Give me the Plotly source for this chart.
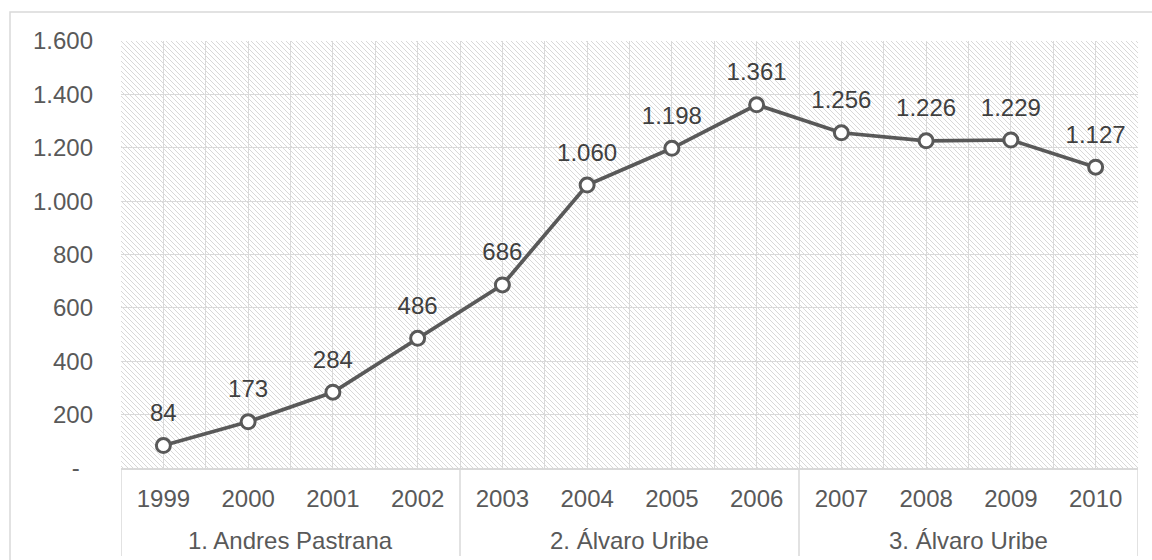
import base64
import plotly.graph_objects as go

# Series data
years = ["1999", "2000", "2001", "2002", "2003", "2004",
         "2005", "2006", "2007", "2008", "2009", "2010"]
terms = ["1. Andres Pastrana"] * 4 + ["2. Álvaro Uribe"] * 4 + ["3. Álvaro Uribe"] * 4
values = [84, 173, 284, 486, 686, 1060, 1198, 1361, 1256, 1226, 1229, 1127]

y_ticks = [0, 200, 400, 600, 800, 1000, 1200, 1400, 1600]
y_ticktext = ["-\u00a0\u00a0" if v == 0 else f"{v:,}".replace(",", ".") for v in y_ticks]

FONT = "Liberation Sans, Arial, sans-serif"
FS = 24
TEXT = "#595959"
LINE = "#595959"
GRID = "#d9d9d9"

n = len(years)
idx = list(range(n))

# Term groups: boundaries between consecutive terms and the centre of each term
bounds = [-0.5] + [i - 0.5 for i in range(1, n) if terms[i] != terms[i - 1]] + [n - 0.5]
groups = []
for i, t in enumerate(terms):
    if not groups or groups[-1][0] != t:
        groups.append([t, []])
    groups[-1][1].append(i)

# Diagonal hatch (one-pixel staircase lines) used as plot-area background
W, H = 1017, 427
P = 5
steps = "".join(f"<rect x='{k}' y='{k}' width='1' height='1'/>" for k in range(P))
svg = f"""<svg xmlns='http://www.w3.org/2000/svg' width='{W}' height='{H}' viewBox='0 0 {W} {H}' shape-rendering='crispEdges'>
<defs><pattern id='h' patternUnits='userSpaceOnUse' width='{P}' height='{P}'>
<rect width='{P}' height='{P}' fill='white'/>
<g fill='#d8d8d8'>{steps}</g>
</pattern></defs>
<rect width='{W}' height='{H}' fill='url(#h)'/></svg>"""
hatch = "data:image/svg+xml;base64," + base64.b64encode(svg.encode()).decode()

fig = go.Figure()

fig.add_trace(go.Scatter(
    x=idx, y=values,
    mode="lines+markers",
    line=dict(color=LINE, width=3.7),
    marker=dict(size=14, color="white", line=dict(color=LINE, width=3)),
    hoverinfo="skip", showlegend=False,
))

# Value labels, placed above each point
fig.add_trace(go.Scatter(
    x=idx, y=values,
    mode="markers+text",
    marker=dict(size=28, opacity=0),
    texttemplate="%{y:,}", textposition="top center",
    textfont=dict(family=FONT, size=FS, color="#404040"),
    hoverinfo="skip", showlegend=False, cliponaxis=False,
))

# Term dividers below the axis and term names
AX_Y = 468
PLOT_H = 427
shapes = [dict(
    type="line", xref="x", yref="paper",
    x0=b, x1=b, y0=0, y1=(AX_Y - 556) / PLOT_H,
    line=dict(color=GRID, width=1.5),
) for b in bounds]
shapes.append(dict(
    type="rect", xref="paper", yref="paper",
    x0=(10 - 121) / W, x1=1.1, y0=-0.5, y1=(AX_Y - 12) / PLOT_H,
    line=dict(color=GRID, width=1.5), fillcolor="rgba(0,0,0,0)",
    layer="below",
))

annotations = [dict(
    x=sum(ix) / len(ix), xref="x",
    y=(AX_Y - 540) / PLOT_H, yref="paper",
    text=name, showarrow=False, xanchor="center", yanchor="middle",
    font=dict(family=FONT, size=FS, color=TEXT),
) for name, ix in groups]

fig.update_layout(
    width=1152, height=560,
    margin=dict(l=121, r=14, t=41, b=92),
    paper_bgcolor="white", plot_bgcolor="rgba(0,0,0,0)",
    separators=",.",
    font=dict(family=FONT, size=FS, color=TEXT),
    xaxis=dict(
        range=[-0.5, n - 0.5],
        tickmode="array", tickvals=idx, ticktext=years,
        showgrid=True, gridcolor=GRID, gridwidth=1,
        minor=dict(tick0=-0.5, dtick=1, showgrid=True, gridcolor=GRID, gridwidth=1, ticks=""),
        showline=True, linecolor=GRID, linewidth=1.5,
        zeroline=False, ticks="", ticklabelstandoff=8,
        tickfont=dict(family=FONT, size=FS, color=TEXT),
        fixedrange=True,
    ),
    yaxis=dict(
        range=[0, 1600],
        tickvals=y_ticks, ticktext=y_ticktext,
        showgrid=True, gridcolor=GRID, gridwidth=1,
        zeroline=False, showline=False, ticks="",
        ticklabelstandoff=27,
        tickfont=dict(family=FONT, size=FS, color=TEXT),
        fixedrange=True,
    ),
    images=[dict(
        source=hatch, xref="paper", yref="paper",
        x=0, y=1, sizex=1, sizey=1, xanchor="left", yanchor="top",
        sizing="stretch", layer="below",
    )],
    shapes=shapes,
    annotations=annotations,
)

fig.write_html("out.html")
